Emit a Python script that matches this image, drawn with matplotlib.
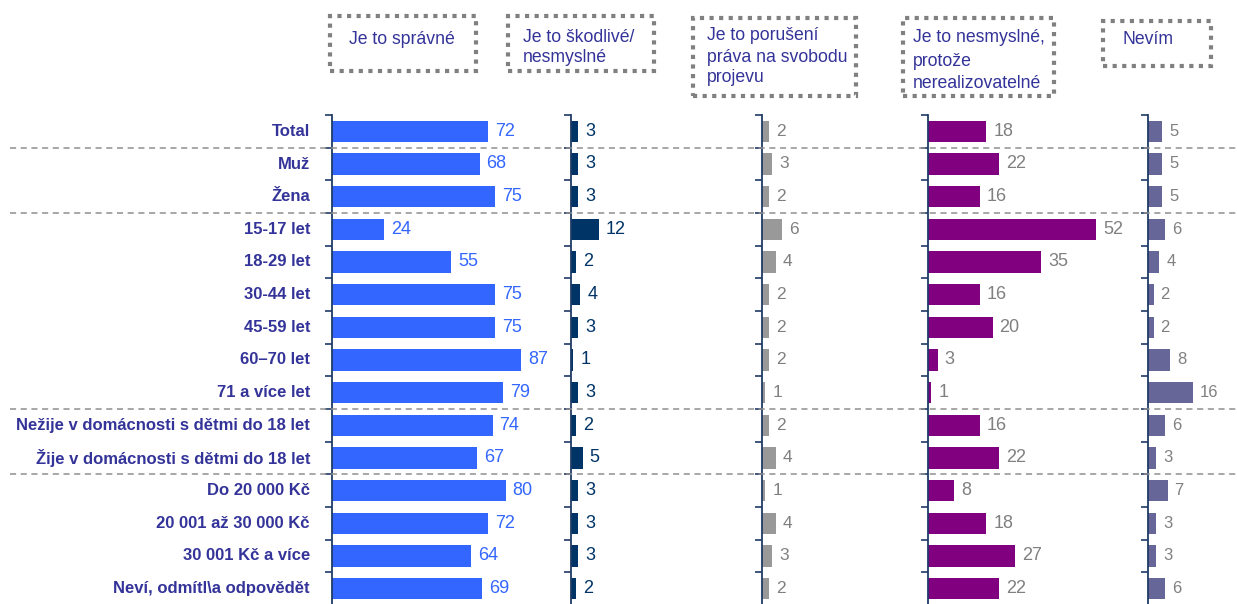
import matplotlib.pyplot as plt
from matplotlib.patches import Rectangle
from matplotlib.lines import Line2D

plt.rcParams['font.family'] = ['Liberation Sans', 'DejaVu Sans']

categories = [
    "Total", "Muž", "Žena", "15-17 let", "18-29 let", "30-44 let", "45-59 let",
    "60–70 let", "71 a více let", "Nežije v domácnosti s dětmi do 18 let",
    "Žije v domácnosti s dětmi do 18 let", "Do 20 000 Kč", "20 001 až 30 000 Kč",
    "30 001 Kč a více", "Neví, odmítl\\a odpovědět",
]
spravne = [72, 68, 75, 24, 55, 75, 75, 87, 79, 74, 67, 80, 72, 64, 69]
skodlive = [3, 3, 3, 12, 2, 4, 3, 1, 3, 2, 5, 3, 3, 3, 2]
poruseni = [2, 3, 2, 6, 4, 2, 2, 2, 1, 2, 4, 1, 4, 3, 2]
nerealizovatelne = [18, 22, 16, 52, 35, 16, 20, 3, 1, 16, 22, 8, 18, 27, 22]
nevim = [5, 5, 5, 6, 4, 2, 2, 8, 16, 6, 3, 7, 3, 3, 6]

headers = [
    "Je to správné",
    "Je to škodlivé/\nnesmyslné",
    "Je to porušení\npráva na svobodu\nprojevu",
    "Je to nesmyslné,\nprotože\nnerealizovatelné",
    "Nevím",
]
separators_after = [0, 2, 8, 10]

W, H = 1237, 604
fig = plt.figure(figsize=(W / 100, H / 100), dpi=100)

text_col = '#333399'
spine_col = '#1F3B66'

# panel: values, bar colour, label colour, left px, width px, px per unit, label size
panels = [
    (spravne, '#3366FF', '#3366FF', 332, 230, 2.17, 13),
    (skodlive, '#003366', '#003366', 571, 180, 2.33, 13),
    (poruseni, '#999999', '#808080', 762, 150, 3.4, 12.5),
    (nerealizovatelne, '#800080', '#808080', 928, 200, 3.23, 13),
    (nevim, '#666699', '#808080', 1148, 85, 2.8, 12),
]

top_px, bot_px = 115, 605
n = len(categories)
rows = list(range(n))

for vals, bcol, lcol, left, width, scale, fs in panels:
    ax = fig.add_axes([left / W, 1 - bot_px / H, width / W, (bot_px - top_px) / H])
    ax.barh(rows, vals, height=0.66, color=bcol)
    ax.set_xlim(0, width / scale)
    ax.set_ylim(n - 0.5, -0.5)
    for i, v in enumerate(vals):
        ax.text(v + 7 / scale, i, str(v), va='center', ha='left', fontsize=fs, color=lcol)
    for s in ['top', 'right', 'bottom']:
        ax.spines[s].set_visible(False)
    ax.spines['left'].set_color(spine_col)
    ax.spines['left'].set_linewidth(1.3)
    ax.set_xticks([])
    ax.set_yticks([i - 0.5 for i in range(n + 1)])
    ax.set_yticklabels([])
    ax.tick_params(axis='y', direction='out', length=5, color=spine_col, width=1.2)
    ax.patch.set_alpha(0)

# category labels
row_h = (bot_px - top_px) / n
for i, cat in enumerate(categories):
    y = top_px + (i + 0.5) * row_h
    fig.text(310 / W, 1 - y / H, cat, ha='right', va='center', fontsize=12,
             fontweight='bold', color=text_col)

# dashed separators across the figure
for k in separators_after:
    y = 1 - (top_px + (k + 1) * row_h) / H
    fig.add_artist(Line2D([10 / W, 1], [y, y], color='#909090', lw=1.1,
                          linestyle=(0, (4, 3)), transform=fig.transFigure))

# header boxes (left, top, right, bottom, text x, text line ys)
boxes = [
    (330, 16, 476, 71, 349, [40]),
    (508, 16, 654, 71, 523, [37, 57]),
    (693, 18, 856, 96, 707, [36, 57, 77]),
    (903, 18, 1054, 96, 913, [37, 61, 84]),
    (1103, 21, 1211, 66, 1122, [40]),
]
for (x0, y0, x1, y1, tx, ys), label in zip(boxes, headers):
    rect = Rectangle((x0 / W, 1 - y1 / H), (x1 - x0) / W, (y1 - y0) / H,
                     transform=fig.transFigure, fill=False, edgecolor='#808080',
                     lw=3, linestyle=(0, (1, 1.3)))
    fig.add_artist(rect)
    for line, yy in zip(label.split('\n'), ys):
        fig.text(tx / W, 1 - yy / H, line, ha='left', va='center', fontsize=12.7,
                 color=text_col)

fig.savefig('out.png', dpi=100)
